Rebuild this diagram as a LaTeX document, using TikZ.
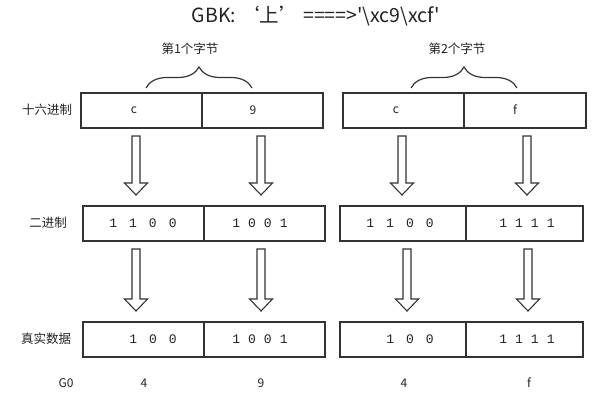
\documentclass[tikz,border=0pt]{standalone}
\usepackage{fontspec}
\setmainfont{Noto Sans CJK SC}[Ligatures=TeXOff]
\setmonofont{Liberation Mono}
\usepackage{tikz}
\usetikzlibrary{calc,decorations.pathreplacing}

\definecolor{linec}{HTML}{333333}
\definecolor{textc}{HTML}{222222}
\newcommand\widegap{\hspace{12pt}}
\newcommand\narrowgap{\hspace{8pt}}
\newcommand\hollowarrow[3]{%
  \draw[fat] let \p1=(#2.south), \p2=(#3.north) in
    (#1pt-4pt,\y1-8pt) -- (#1pt+4pt,\y1-8pt) -- (#1pt+4pt,\y2+23pt)
    -- (#1pt+11.5pt,\y2+23pt) -- (#1pt,\y2+11pt) -- (#1pt-11.5pt,\y2+23pt)
    -- (#1pt-4pt,\y2+23pt) -- cycle;}

\begin{document}
\begin{tikzpicture}[x=1pt, y=-1pt,
    half/.style={draw=linec, line width=1.6pt, minimum height=35pt, inner sep=0pt, outer sep=0pt, anchor=north west},
    fat/.style={draw=linec, line width=1.1pt, fill=white},
    bits/.style={font=\ttfamily\fontsize{13}{13}\selectfont, text=textc},
    lbl/.style={font=\fontsize{12.5}{13}\selectfont, text=textc},
    val/.style={font=\fontsize{12}{12}\selectfont, text=textc},
    bytebrace/.style={draw=linec, line width=1.2pt, decorate, decoration={brace, amplitude=21pt}}]
    \useasboundingbox (0,0) rectangle (612,403);
    \node[font=\fontsize{19.5}{20}\selectfont, text=textc] (title) at (316,16) {GBK: ‘上’ ====>'\textbackslash xc9\textbackslash xcf'};

    \node[lbl] (byte1) at (190,49) {第1个字节};
    \node[lbl] (byte2) at (457,49) {第2个字节};
    \draw[bytebrace] (146,88) -- (252,88);
    \draw[bytebrace] (411,88) -- (517,88);

    \node[half, minimum width=121pt] (hexa) at (81,93) {};
    \node[half, minimum width=121pt] (hexb) at (202,93) {};
    \node[half, minimum width=121pt] (hexc) at (343,93) {};
    \node[half, minimum width=122pt] (hexd) at (464,93) {};
    \node[half, minimum width=121pt] (bina) at (83,206) {};
    \node[half, minimum width=121pt] (binb) at (204,206) {};
    \node[half, minimum width=126pt] (binc) at (340,206) {};
    \node[half, minimum width=117pt] (bind) at (466,206) {};
    \node[half, minimum width=121pt] (reala) at (83,322) {};
    \node[half, minimum width=121pt] (realb) at (204,322) {};
    \node[half, minimum width=126pt] (realc) at (340,322) {};
    \node[half, minimum width=117pt] (reald) at (466,322) {};

    \node[lbl] (hexlbl) at (47,110) {十六进制};
    \node[lbl] (binlbl) at (48,223) {二进制};
    \node[lbl] (reallbl) at (46,339) {真实数据};

    \node[val] (hexc1) at (134,110) {c};
    \node[val] (hex91) at (253,110) {9};
    \node[val] (hexc2) at (396,110) {c};
    \node[val] (hexf2) at (515,110) {f};

    \node[bits] (bits1) at (143,223) {1\widegap 1\widegap 0\widegap 0};
    \node[bits] (bits2) at (260,223) {1\narrowgap 0\narrowgap 0\narrowgap 1};
    \node[bits] (bits3) at (400,223) {1\widegap 1\widegap 0\widegap 0};
    \node[bits] (bits4) at (527,223) {1\narrowgap 1\narrowgap 1\narrowgap 1};
    \node[bits] (real1) at (153,339) {1\widegap 0\widegap 0};
    \node[bits] (real2) at (260,339) {1\narrowgap 0\narrowgap 0\narrowgap 1};
    \node[bits] (real3) at (410,339) {1\widegap 0\widegap 0};
    \node[bits] (real4) at (527,339) {1\narrowgap 1\narrowgap 1\narrowgap 1};

    \node[val] (g0) at (66,383) {G0};
    \node[val] (g0a) at (144,383) {4};
    \node[val] (g0b) at (261,383) {9};
    \node[val] (g0c) at (404,383) {4};
    \node[val] (g0d) at (529,383) {f};

    \hollowarrow{136}{hexa}{bina}
    \hollowarrow{261}{hexb}{binb}
    \hollowarrow{402}{hexc}{binc}
    \hollowarrow{527}{hexd}{bind}
    \hollowarrow{136}{bina}{reala}
    \hollowarrow{261}{binb}{realb}
    \hollowarrow{407}{binc}{realc}
    \hollowarrow{528}{bind}{reald}
\end{tikzpicture}
\end{document}
